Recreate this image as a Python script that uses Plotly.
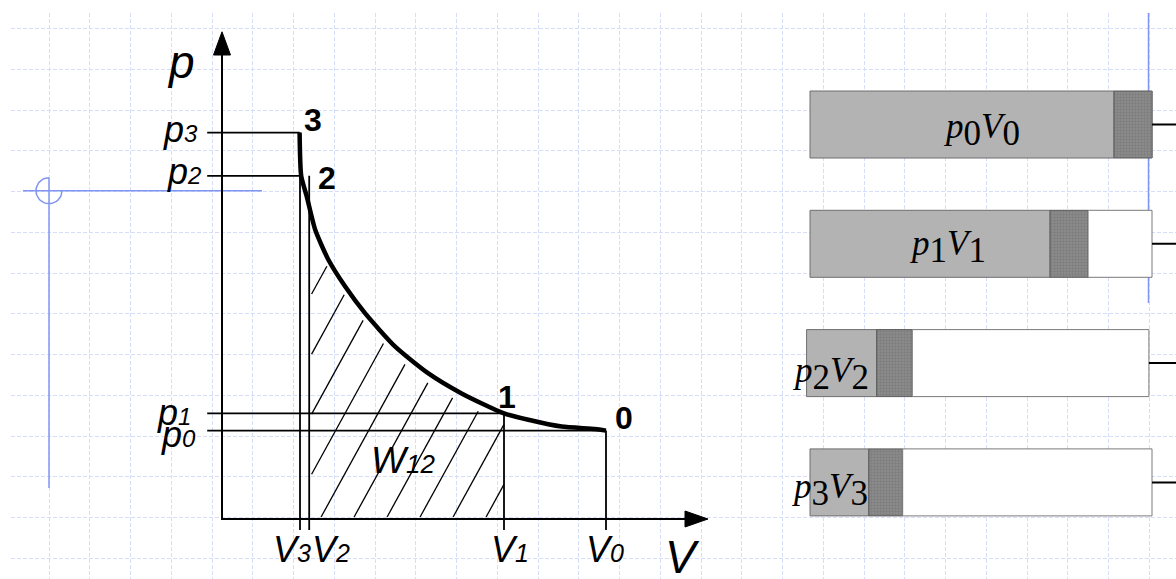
import numpy as np
import plotly.graph_objects as go

# ---------------- data: p-V diagram (arbitrary units) ----------------
state_names = ["0", "1", "2", "3"]
V_state = [9.60, 7.05, 2.18, 1.95]
p_state = [2.21, 2.64, 8.58, 9.66]

# process curve 3 -> 2 -> 1 -> 0
curve_V = [1.94, 1.98, 2.12, 2.33, 2.66, 3.08, 3.58, 4.33, 5.16, 5.99, 7.05, 7.66, 8.49, 9.33, 9.60]
curve_p = [9.66, 8.58, 8.06, 7.23, 6.48, 5.81, 5.14, 4.31, 3.64, 3.14, 2.64, 2.48, 2.31, 2.25, 2.21]

# ---------------- data: pV bars (units: % of the p0V0 bar) ----------------
bar_names = ["p0V0", "p1V1", "p2V2", "p3V3"]
bar_start = [0.0, 0.0, -1.0, 0.0]
bar_gray = [88.9, 70.2, 20.5, 17.2]
bar_dark = [11.1, 11.1, 10.4, 9.9]
bar_white = [0.0, 18.7, 69.2, 72.9]

# ---------------- layout constants ----------------
W, H = 1176, 579
ORIGIN_X, ORIGIN_Y, UNIT = 222, 519, 40.0
x2_range = [-ORIGIN_X / UNIT, (W - ORIGIN_X) / UNIT]
y2_range = [-(H - ORIGIN_Y) / UNIT, ORIGIN_Y / UNIT]
BAR0_X, BAR_UNIT = 810, 3.42
x3_range = [-BAR0_X / BAR_UNIT, (W - BAR0_X) / BAR_UNIT]
ROW0, ROW = 124.5, 119.3
y3_range = [(H - ROW0) / ROW, -ROW0 / ROW]

GRID = "rgb(214,222,250)"
BLUE = "rgb(128,150,242)"
SANS = "Liberation Sans"
SERIF = "Liberation Serif"

fig = go.Figure()

# ---------------- background decorations (subplot xy, pixel units) ----------------
cx, cy, r = 49, 190.7, 13
t = np.linspace(np.pi / 2, 2 * np.pi, 40)
fig.add_trace(go.Scatter(x=cx + r * np.cos(t), y=cy - r * np.sin(t), mode="lines",
                         line=dict(color=BLUE, width=1.5), hoverinfo="skip", xaxis="x", yaxis="y"))
fig.add_trace(go.Scatter(x=[23, 262, None, cx, cx, None, 1148.5, 1148.5],
                         y=[cy, cy, None, cy - r, 488, None, 12, 303],
                         mode="lines", line=dict(color=BLUE, width=1.5), hoverinfo="skip",
                         xaxis="x", yaxis="y"))

# ---------------- p-V diagram (subplot x2y2) ----------------
cV = np.array(curve_V)
cp = np.array(curve_p)
V2, V1 = V_state[2], V_state[1]

# hatch of the work area W12 (between V2 and V1, under the curve)
slope, spacing, gap = 1.82, 0.825, 0.25
hx, hy = [], []
k = 0
while True:
    v0 = 6.575 - k * spacing
    k += 1
    if v0 < V2 - 4:
        break
    p_low = max(0.05, slope * (V2 + 0.06 - v0))
    v_low = v0 + p_low / slope
    if v_low >= V1:
        continue
    vs = np.linspace(v_low, V1, 3000)
    f = slope * (vs - v0) - (np.interp(vs, cV, cp) - gap)
    idx = np.where(f >= 0)[0]
    v_up = vs[idx[0]] if len(idx) else V1
    if v_up - v_low < 0.05:
        continue
    hx += [v_low, v_up, None]
    hy += [slope * (v_low - v0), slope * (v_up - v0), None]
fig.add_trace(go.Scatter(x=hx, y=hy, mode="lines", line=dict(color="black", width=1.3),
                         hoverinfo="skip", xaxis="x2", yaxis="y2"))

# guide lines
p_end_V = np.interp(p_state, cp[::-1], cV[::-1])
gx, gy = [], []
for i in range(4):
    gx += [-0.37, p_end_V[i], None]
    gy += [p_state[i], p_state[i], None]
    gx += [V_state[i], V_state[i], None]
    gy += [p_state[i], -0.275, None]
fig.add_trace(go.Scatter(x=gx, y=gy, mode="lines", line=dict(color="black", width=1.8),
                         hoverinfo="skip", xaxis="x2", yaxis="y2"))

# axes with arrows
P_TOP, V_TOP = 12.18, 12.15
fig.add_trace(go.Scatter(x=[0, 0, V_TOP - 0.5], y=[P_TOP - 0.5, 0, 0], mode="lines",
                         line=dict(color="black", width=2), hoverinfo="skip", xaxis="x2", yaxis="y2"))
fig.add_trace(go.Scatter(x=[-0.2125, 0.2125, 0, -0.2125], y=[P_TOP - 0.58, P_TOP - 0.58, P_TOP, P_TOP - 0.58],
                         mode="lines", fill="toself", fillcolor="black", line=dict(color="black", width=1),
                         hoverinfo="skip", xaxis="x2", yaxis="y2"))
fig.add_trace(go.Scatter(x=[V_TOP - 0.575, V_TOP - 0.575, V_TOP, V_TOP - 0.575], y=[-0.2, 0.2, 0, -0.2],
                         mode="lines", fill="toself", fillcolor="black", line=dict(color="black", width=1),
                         hoverinfo="skip", xaxis="x2", yaxis="y2"))

# process curve
fig.add_trace(go.Scatter(x=curve_V, y=curve_p, mode="lines",
                         line=dict(color="black", width=4.5, shape="spline", smoothing=0.6),
                         hoverinfo="skip", xaxis="x2", yaxis="y2"))

ann = []
lab_font = dict(family=SANS, size=36, color="black")


def sub(s, size):
    return "<span style='font-size:%dpx'>%s</span>" % (size, s)


# p_i labels
p_dx = [-24, -29, -19, -22]
p_dy = [-3.8, 1.3, 4, 3]
for i in range(4):
    ann.append(dict(x=0, y=p_state[i], xref="x2", yref="y2", showarrow=False,
                    text="<i>p" + sub(state_names[i], 24) + "</i>", font=lab_font,
                    xanchor="right", yanchor="middle", xshift=p_dx[i], yshift=p_dy[i]))
# V_i labels
v_dx = [-1.5, 6, 22, -8.5]
for i in range(4):
    ann.append(dict(x=V_state[i], y=0, xref="x2", yref="y2", showarrow=False,
                    text="<i>V" + sub(state_names[i], 25) + "</i>", font=lab_font,
                    xanchor="center", yanchor="middle", xshift=v_dx[i], yshift=-30.5))
# state numbers
s_dx = [18, 3, 26, 13.5]
s_dy = [13, 16, -2, 12.7]
for i in range(4):
    ann.append(dict(x=p_end_V[i], y=p_state[i], xref="x2", yref="y2", showarrow=False,
                    text="<b>" + state_names[i] + "</b>", font=dict(family=SANS, size=32, color="black"),
                    xanchor="center", yanchor="middle", xshift=s_dx[i], yshift=s_dy[i]))
# axis titles
ann.append(dict(x=0, y=P_TOP, xref="x2", yref="y2", showarrow=False, text="<i>p</i>",
                font=dict(family=SANS, size=46, color="black"), xanchor="center", yanchor="middle",
                xshift=-41, yshift=-29.7))
ann.append(dict(x=V_TOP, y=0, xref="x2", yref="y2", showarrow=False, text="<i>V</i>",
                font=dict(family=SANS, size=46, color="black"), xanchor="center", yanchor="middle",
                xshift=-26, yshift=-38))
# work label
ann.append(dict(x=(V_state[2] + V_state[1]) / 2, y=0, xref="x2", yref="y2", showarrow=False,
                text="<i>W" + sub("12", 26) + "</i>", font=dict(family=SANS, size=37, color="black"),
                xanchor="center", yanchor="middle", xshift=-4, yshift=59))

# ---------------- pV bars (subplot x3y3) ----------------
bar_kw = dict(orientation="h", width=0.5616, xaxis="x3", yaxis="y3", hoverinfo="skip")
fig.add_trace(go.Bar(y=bar_names, x=bar_gray, base=bar_start,
                     marker=dict(color="#b3b3b3", line=dict(color="#6f6f6f", width=1)), **bar_kw))
dark_base = [s + g for s, g in zip(bar_start, bar_gray)]
fig.add_trace(go.Bar(y=bar_names, x=bar_dark, base=dark_base,
                     marker=dict(color="#858585", line=dict(color="#5a5a5a", width=1),
                                 pattern=dict(shape="+", fgcolor="#6e6e6e", bgcolor="#8a8a8a",
                                              size=3, solidity=0.35)), **bar_kw))
white_base = [d + k for d, k in zip(dark_base, bar_dark)]
fig.add_trace(go.Bar(y=bar_names, x=bar_white, base=white_base,
                     marker=dict(color="white", line=dict(color="#7a7a7a", width=1)), **bar_kw))
bar_end = [w + v for w, v in zip(white_base, bar_white)]
lx, ly = [], []
for i in range(4):
    lx += [bar_end[i], bar_end[i] + 15, None]
    ly += [bar_names[i], bar_names[i], None]
fig.add_trace(go.Scatter(x=lx, y=ly, mode="lines", line=dict(color="black", width=2),
                         hoverinfo="skip", xaxis="x3", yaxis="y3"))

bar_text_x = [50.0, 40.1, 6.1, 5.7]
bar_text_dy = [-5.6, -3, -10.5, -8]
for i, nm in enumerate(bar_names):
    txt = ("<i>p</i><sub>" + sub(nm[1], 35) + "</sub><i>V</i><sub>" + sub(nm[3], 35) + "</sub>")
    ann.append(dict(x=bar_text_x[i], y=nm, xref="x3", yref="y3", showarrow=False, text=txt,
                    font=dict(family=SERIF, size=35, color="black"), xanchor="center",
                    yanchor="middle", yshift=bar_text_dy[i]))

ax_off = dict(showgrid=False, zeroline=False, showticklabels=False, ticks="", showline=False,
              fixedrange=True)
fig.update_layout(
    width=W, height=H, autosize=False, margin=dict(l=0, r=0, t=0, b=0),
    paper_bgcolor="white", plot_bgcolor="rgba(0,0,0,0)", showlegend=False, barmode="overlay",
    xaxis=dict(domain=[11 / W, 1], range=[11, W], tickmode="linear", tick0=49, dtick=40.75,
               showgrid=True, gridcolor=GRID, griddash="4px,2px", gridwidth=1, zeroline=False,
               showticklabels=False, ticks="", anchor="y", fixedrange=True),
    yaxis=dict(domain=[0, (H - 13) / H], range=[H, 13], tickmode="linear", tick0=28.5, dtick=40.75,
               showgrid=True, gridcolor=GRID, griddash="4px,2px", gridwidth=1, zeroline=False,
               showticklabels=False, ticks="", anchor="x", fixedrange=True),
    xaxis2=dict(domain=[0, 1], range=x2_range, anchor="y2", **ax_off),
    yaxis2=dict(domain=[0, 1], range=y2_range, anchor="x2", **ax_off),
    xaxis3=dict(domain=[0, 1], range=x3_range, anchor="y3", **ax_off),
    yaxis3=dict(domain=[0, 1], range=y3_range, anchor="x3", type="category",
                categoryorder="array", categoryarray=bar_names, **ax_off),
    annotations=ann,
)

# remove the default page margin so the figure sits at the window's top-left corner
fig.write_html("out.html", config={"displayModeBar": False},
               post_script="document.body.style.margin='0';document.body.style.overflow='hidden';")
